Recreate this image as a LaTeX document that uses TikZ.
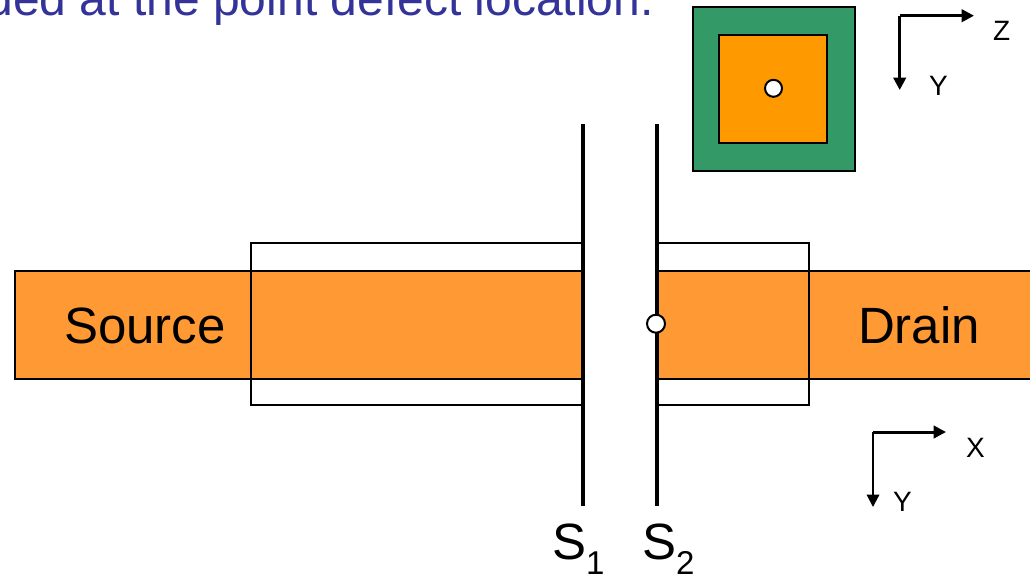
\documentclass[tikz,border=0pt]{standalone}
\usepackage{fontspec}
\setmainfont{Liberation Sans}
\usetikzlibrary{arrows.meta}
\definecolor{headblue}{HTML}{333399}
\definecolor{bandorange}{HTML}{FF9933}
\definecolor{coreorange}{HTML}{FF9900}
\definecolor{shellgreen}{HTML}{339966}
\tikzset{
  txt/.style={inner sep=0pt,outer sep=0pt,anchor=base west,text=black},
  big/.style={txt,font=\fontsize{51}{51}\selectfont},
  small/.style={txt,font=\fontsize{28}{28}\selectfont},
  head/.style={txt,text=headblue,font=\fontsize{48}{48}\selectfont},
  boxline/.style={draw=black,line width=2pt},
  wall/.style={draw=black,line width=3.5pt},
  defect/.style={circle,draw=black,fill=white,line width=2pt,minimum size=18pt,inner sep=0pt,outer sep=0pt},
  axisx/.style={draw=black,line width=3pt,-{Triangle[length=12.5pt,width=12.5pt]}},
  axisy/.style={draw=black,line width=2.2pt,-{Triangle[length=12.5pt,width=12.5pt]}},
}
\newcommand{\subdigit}[1]{\raisebox{-15.5pt}{\fontsize{33}{33}\selectfont #1}}
\begin{document}
\begin{tikzpicture}[x=1pt,y=-1pt]
\useasboundingbox (0,0) rectangle (1030,576);
\clip (0,0) rectangle (1030,576);
% heading
\node[head] (heading) at (-13.5,15.5) {ded at the point defect location.};
% cross section
\filldraw[boxline,fill=shellgreen] (693,7) rectangle (855,171);
\filldraw[boxline,fill=coreorange] (719,35) rectangle (827,143);
\node[defect,minimum size=17pt] (dotA) at (773.5,88.3) {};
% band
\filldraw[boxline,fill=bandorange] (15,271) rectangle (1040,379);
\draw[boxline] (251,243) rectangle (809,405);
\fill[white] (584,235) rectangle (656,415);
\coordinate (s1top) at (583,124);
\coordinate (s1bot) at (583,506);
\coordinate (s2top) at (657,124);
\coordinate (s2bot) at (657,506);
\draw[wall] (s1top) -- (s1bot);
\draw[wall] (s2top) -- (s2bot);
\node[defect] (dotB) at (656,323.7) {};
% labels
\node[big] (source) at (64,343) {Source};
\node[big] (drain) at (858,343) {Drain};
\node[big] (s1) at (552,559) {S\subdigit{1}};
\node[big] (s2) at (642,559) {S\subdigit{2}};
% axes top
\coordinate (o1) at (899.7,15.7);
\coordinate (z1) at (974,15.7);
\coordinate (y1) at (899.7,90);
\draw[axisx] (o1) -- (z1);
\draw[axisx] (o1) -- (y1);
\node[small] (zlab) at (993,40) {Z};
\node[small] (ylab) at (929,95) {Y};
% axes bottom
\coordinate (o2) at (873,432);
\coordinate (x2) at (946,432);
\coordinate (y2) at (873,507);
\draw[axisx] (o2) -- (x2);
\draw[axisy] (o2) -- (y2);
\node[small] (xlab) at (966,457) {X};
\node[small] (ylabb) at (893,511) {Y};
\end{tikzpicture}
\end{document}
